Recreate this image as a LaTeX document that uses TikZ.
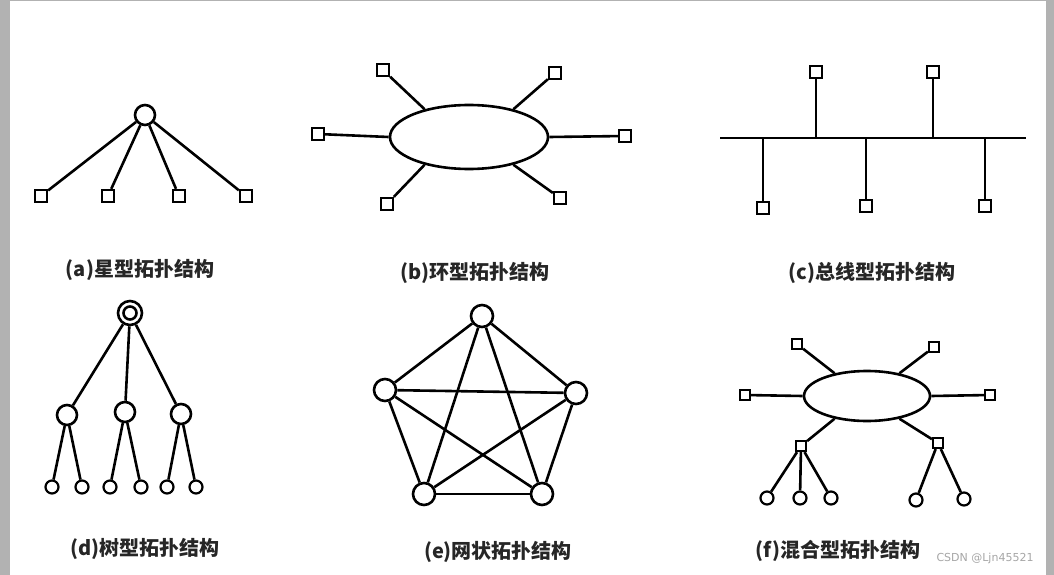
\documentclass[tikz,border=0pt]{standalone}
\usepackage{fontspec}
\usetikzlibrary{shapes.geometric}
\newfontfamily\cjk{Noto Sans CJK SC}
\newfontfamily\wm{DejaVu Sans}
\begin{document}
\begin{tikzpicture}[x=1pt,y=-1pt,line width=2.6pt,
  sq/.style={draw,fill=white,minimum size=12pt,inner sep=0pt,line width=2.3pt},
  ssq/.style={draw,fill=white,minimum size=10pt,inner sep=0pt,line width=2.2pt},
  cir/.style={draw,fill=white,circle,minimum size=20pt,inner sep=0pt},
  scir/.style={draw,fill=white,circle,minimum size=13pt,inner sep=0pt,line width=2.2pt},
  lbl/.style={font=\cjk\bfseries\fontsize{20}{20}\selectfont,text=black!85}]
\useasboundingbox (0,0) rectangle (1054,575);
\fill[gray!60] (0,0) rectangle (10,575);
\fill[gray!60] (1046,0) rectangle (1054,575);
\draw[gray!60,line width=1pt] (10,0.5) -- (1046,0.5);
% (a)
\node[cir] (ac) at (145,115) {};
\foreach \x [count=\i] in {41,108,179,246}{\node[sq] (as\i) at (\x,196) {}; \draw (ac) -- (as\i);}
\node[lbl] (la) at (140,270) {(a)星型拓扑结构};
% (b)
\node[draw,ellipse,minimum width=158pt,minimum height=64pt,inner sep=0pt] (be) at (469,137) {};
\foreach \p [count=\i] in {(383,70),(555,73),(318,134),(625,136),(387,204),(560,198)}{\node[sq] (bs\i) at \p {};}
\draw (bs1) -- (be.148); \draw (bs2) -- (be.32); \draw (bs3) -- (be.west);
\draw (bs4) -- (be.east); \draw (bs5) -- (be.212); \draw (bs6) -- (be.328);
\node[lbl] (lb) at (475,273) {(b)环型拓扑结构};
% (c)
\coordinate (c0) at (720,138); \coordinate (c9) at (1026,138);
\draw (c0) -- (c9);
\foreach \x/\y [count=\i] in {816/72,933/72,763/208,866/206,985/206}{
  \node[sq] (cs\i) at (\x,\y) {}; \coordinate (cb\i) at (\x,138); \draw (cb\i) -- (cs\i);}
\node[lbl] (lc) at (872,273) {(c)总线型拓扑结构};
% (d)
\node[cir,minimum size=24pt] (dr) at (130,313) {};
\node[draw,circle,minimum size=13pt,inner sep=0pt] (dri) at (130,313) {};
\foreach \x/\y [count=\i] in {67/415,125/412,181/414}{\node[cir] (dc\i) at (\x,\y) {}; \draw (dr) -- (dc\i);}
\foreach \x/\p [count=\i] in {52/1,82/1,110/2,141/2,167/3,196/3}{\node[scir] (dl\i) at (\x,487) {}; \draw (dc\p) -- (dl\i);}
\node[lbl] (ld) at (145,549) {(d)树型拓扑结构};
% (e)
\foreach \p [count=\i] in {(482,316),(576,393),(542,494),(424,494),(385,390)}{\node[cir,minimum size=22pt] (e\i) at \p {};}
\foreach \i/\j in {1/2,1/3,1/4,1/5,2/3,2/4,2/5,3/4,3/5,4/5}{\draw (e\i) -- (e\j);}
\node[lbl] (le) at (498,552) {(e)网状拓扑结构};
% (f)
\node[draw,ellipse,minimum width=126pt,minimum height=50pt,inner sep=0pt] (fe) at (867,396) {};
\foreach \p [count=\i] in {(797,344),(934,347),(745,395),(990,395),(801,446),(938,443)}{\node[ssq] (fs\i) at \p {};}
\draw (fs1) -- (fe.145); \draw (fs2) -- (fe.35); \draw (fs3) -- (fe.west);
\draw (fs4) -- (fe.east); \draw (fs5) -- (fe.215); \draw (fs6) -- (fe.325);
\foreach \x [count=\i] in {767,800,831}{\node[scir] (fc\i) at (\x,498) {}; \draw (fs5) -- (fc\i);}
\node[scir] (fc4) at (916,500) {}; \draw (fs6) -- (fc4);
\node[scir] (fc5) at (964,499) {}; \draw (fs6) -- (fc5);
\node[lbl] (lf) at (838,551) {(f)混合型拓扑结构};
\node[font=\wm\fontsize{11}{11}\selectfont,text=gray!70] (wm) at (985,558) {CSDN @Ljn45521};
\end{tikzpicture}
\end{document}
